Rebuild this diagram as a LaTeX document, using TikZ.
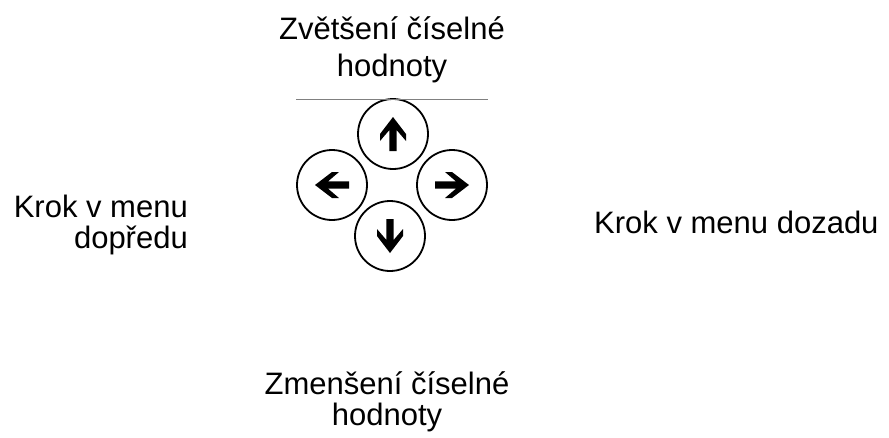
\documentclass[tikz,border=0pt]{standalone}
\usepackage{fontspec}
\setmainfont{Liberation Sans}
\tikzset{
  btn/.style={circle, draw=black, line width=1.8pt, minimum size=70pt, inner sep=0pt},
  lbl/.style={inner sep=0pt, font=\fontsize{31}{37}\selectfont},
  glyph/.pic={\fill[black] (17,0) -- (0,13) -- (-7,13) -- (4,3.6) -- (-17,3.6) -- (-17,-3.6) -- (4,-3.6) -- (-7,-13) -- (0,-13) -- cycle;}
}
\begin{document}
\begin{tikzpicture}[x=1pt,y=-1pt]
\useasboundingbox (0,0) rectangle (889,437);
\node[btn] (up) at (393,134) {};
\node[btn] (left) at (332,185) {};
\node[btn] (right) at (452,185) {};
\node[btn] (down) at (390,236) {};
\pic[rotate=90] at (up) {glyph};
\pic[rotate=180] at (left) {glyph};
\pic at (right) {glyph};
\pic[rotate=270] at (down) {glyph};
\coordinate (la) at (296,99);
\coordinate (lb) at (488,99);
\draw[gray, line width=0.9pt] (la) -- (lb);
\node[lbl, anchor=base, align=center] (top) at (392,76) {Zvětšení číselné\\hodnoty};
\node[lbl, anchor=base, align=center, font=\fontsize{31}{31}\selectfont] (bot) at (387,425) {Zmenšení číselné\\hodnoty};
\node[lbl, anchor=base east, align=right, font=\fontsize{31}{31}\selectfont] (fw) at (188,248) {Krok v menu\\dopředu};
\node[lbl, anchor=base west] (bw) at (594,233) {Krok v menu dozadu};
\end{tikzpicture}
\end{document}
